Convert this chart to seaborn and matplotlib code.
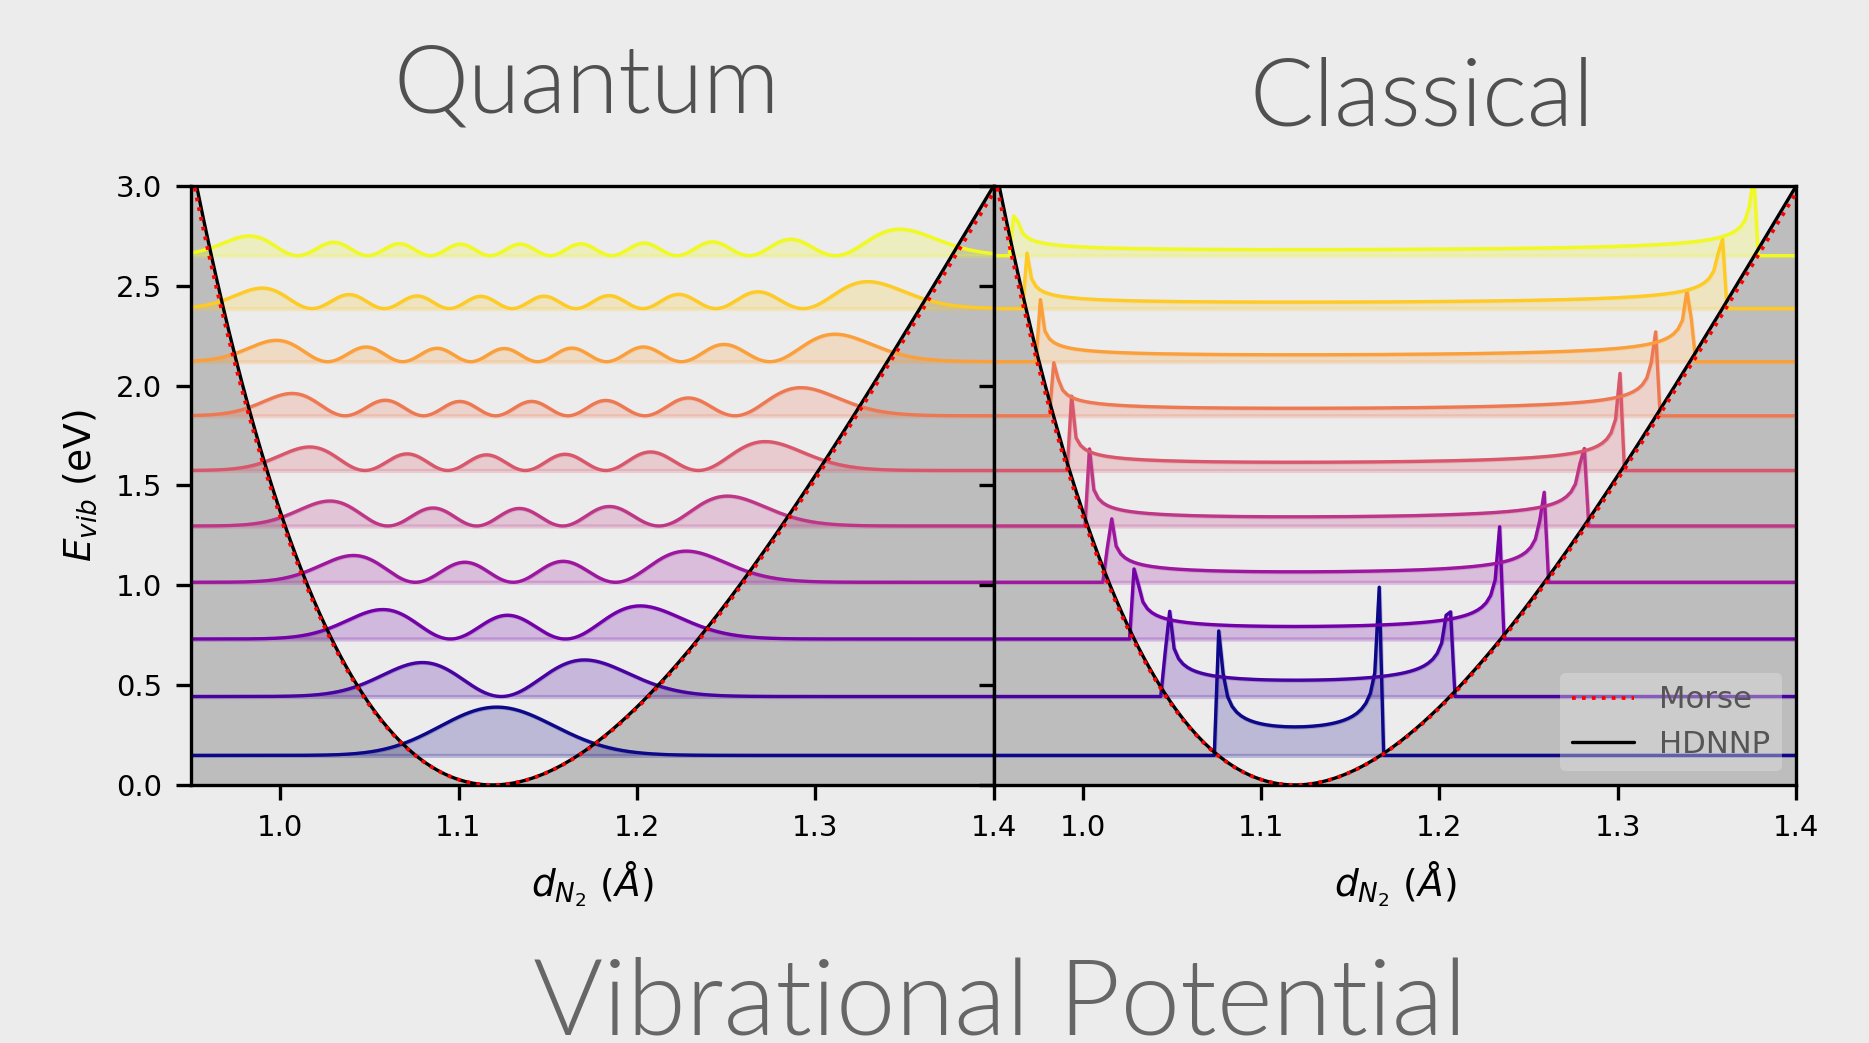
import numpy as np
import matplotlib
matplotlib.use('Agg')
import matplotlib.pyplot as plt
import seaborn as sns

# niveis vibracionais (eV)
levels = [0.148, 0.443, 0.731, 1.015, 1.297, 1.575, 1.849, 2.120, 2.386, 2.651]

# parametros do poco
r_eq = 1.119        # posicao do minimo (A)
depth = 12.35       # profundidade (eV)
a_hdnnp = 2.416     # largura HDNNP (1/A)
a_morse = 2.397     # largura Morse (1/A)
kin = 2.985e-4      # hbar^2 / (2 mu) do N2 (eV A^2)

q_scale = 0.0194    # escala das densidades quanticas
c_scale = 0.0205    # escala das densidades classicas
bin_width = 0.0025  # largura do histograma classico (A)

xticks = [1.0, 1.1, 1.2, 1.3, 1.4]
yticks = [0.0, 0.5, 1.0, 1.5, 2.0, 2.5, 3.0]
xlim = (0.95, 1.4)
ylim = (0.0, 3.0)

bg = '#ececec'
gray_fill = '#bdbdbd'


def morse(x, a):
    return depth * (1 - np.exp(-a * (x - r_eq))) ** 2


def quantum_densities(x):
    dx = x[1] - x[0]
    n = len(x)
    main = 2 * kin / dx ** 2 + morse(x, a_hdnnp)
    off = -kin / dx ** 2 * np.ones(n - 1)
    H = np.diag(main) + np.diag(off, 1) + np.diag(off, -1)
    w, vec = np.linalg.eigh(H)
    return [vec[:, i] ** 2 / dx for i in range(len(levels))]


def classical_densities():
    xf = np.linspace(0.90, 1.50, 600001)
    vf = morse(xf, a_hdnnp)
    edges = np.arange(0.90, 1.50 + bin_width / 2, bin_width)
    centers = 0.5 * (edges[1:] + edges[:-1])
    out = []
    for E in levels:
        diff = E - vf
        wts = np.where(diff > 0, 1 / np.sqrt(np.clip(diff, 1e-12, None)), 0.0)
        hist, _ = np.histogram(xf, bins=edges, weights=wts)
        out.append(hist / (hist.sum() * bin_width))
    return centers, out


sns.set_theme(style='ticks', rc={'axes.facecolor': bg, 'figure.facecolor': bg,
                                 'axes.edgecolor': 'black', 'axes.linewidth': 0.8,
                                 'xtick.major.width': 0.8, 'ytick.major.width': 0.8,
                                 'xtick.major.size': 3.5, 'ytick.major.size': 3.5,
                                 'xtick.labelsize': 7, 'ytick.labelsize': 7,
                                 'xtick.color': 'black', 'ytick.color': 'black',
                                 'xtick.labelcolor': 'black', 'ytick.labelcolor': 'black',
                                 'axes.labelcolor': 'black', 'text.color': 'black',
                                 'axes.labelsize': 9, 'patch.linewidth': 1.0})
plt.rcParams['font.family'] = ['DejaVu Sans']

colors = plt.cm.plasma(np.linspace(0, 1, len(levels)))

fig, axes = plt.subplots(1, 2, sharey=True, figsize=(1869 / 300, 1043 / 300))
fig.subplots_adjust(left=0.1022, right=0.961, bottom=0.2474, top=0.8217, wspace=0)

xq = np.linspace(0.85, 1.65, 1601)
q_dens = quantum_densities(xq)
xc, c_dens = classical_densities()
xp = np.linspace(0.90, 1.50, 2000)
v_h = morse(xp, a_hdnnp)
v_m = morse(xp, a_morse)

for k, ax in enumerate(axes):
    # regiao proibida: abaixo da curva de potencial
    ax.fill_between(xp, -0.5, v_h, color=gray_fill, lw=0, zorder=0.5)
    if k == 0:
        xs, dens, sc = xq, q_dens, q_scale
    else:
        xs, dens, sc = xc, c_dens, c_scale
    for i, E in enumerate(levels):
        yy = E + sc * dens[i]
        ax.fill_between(xs, E, yy, color=colors[i], alpha=0.22, zorder=1)
        sns.lineplot(x=xs, y=yy, ax=ax, color=colors[i], lw=0.8,
                     estimator=None, sort=False, zorder=2)
    lab_m = 'Morse' if k == 1 else None
    lab_h = 'HDNNP' if k == 1 else None
    sns.lineplot(x=xp, y=v_h, ax=ax, color='black', lw=0.8,
                 estimator=None, sort=False, zorder=3, label=lab_h)
    sns.lineplot(x=xp, y=v_m, ax=ax, color='red', lw=0.9, linestyle=':',
                 estimator=None, sort=False, zorder=4, label=lab_m)
    ax.set_xlim(*xlim)
    ax.set_ylim(*ylim)
    ax.set_xticks(xticks)
    ax.set_yticks(yticks)
    for s in ax.spines.values():
        s.set_visible(True)
        s.set_color('black')
    ax.set_xlabel(r'$d_{N_2}$ $(Å)$', color='black')

axes[0].set_ylabel(r'$E_{vib}$ (eV)', color='black')
if axes[0].get_legend() is not None:
    axes[0].get_legend().remove()

handles, labels = axes[1].get_legend_handles_labels()
order = [labels.index('Morse'), labels.index('HDNNP')]
leg = axes[1].legend([handles[j] for j in order], [labels[j] for j in order],
                     loc='lower right', fontsize=7.4, labelcolor='#555555',
                     facecolor='#e4e4e4', edgecolor='none', framealpha=0.4,
                     borderaxespad=0.45)
leg.set_zorder(10)

fig.text(0.3141, 0.8917, 'Quantum', ha='center', va='baseline', family='Lato',
         fontweight=300, fontsize=22.8, color='#505050')
fig.text(0.7608, 0.8792, 'Classical', ha='center', va='baseline', family='Lato',
         fontweight=300, fontsize=22.8, color='#505050')
fig.text(0.535, 0.0077, 'Vibrational Potential', ha='center', va='baseline',
         family='Lato', fontweight=300, fontsize=25.7, color='#666666')

fig.savefig('out.png', dpi=300, facecolor=fig.get_facecolor())
